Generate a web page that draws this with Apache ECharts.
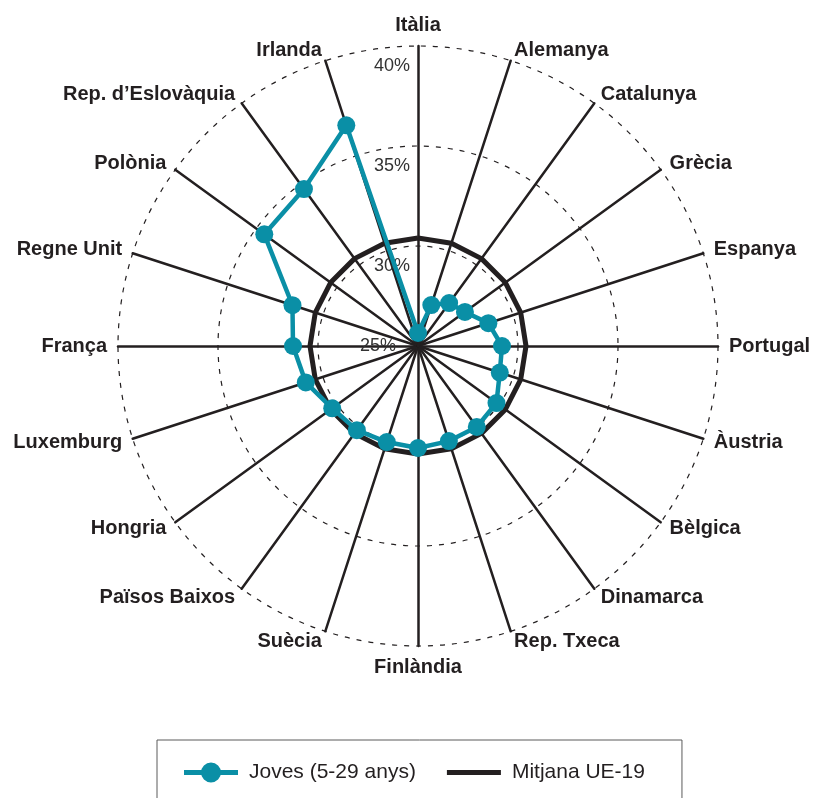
<!DOCTYPE html>
<html>
<head>
<meta charset="utf-8">
<script src="https://cdn.jsdelivr.net/npm/echarts@6/dist/echarts.min.js"></script>
<style>
  html, body { margin: 0; padding: 0; background: #ffffff; }
  #main { width: 816px; height: 798px; }
</style>
</head>
<body>
<div id="main"></div>
<script>
// indicators, listed counter-clockwise from the top (radar default direction)
const countries = ['Itàlia', 'Irlanda', 'Rep. d’Eslovàquia', 'Polònia', 'Regne Unit', 'França',
  'Luxemburg', 'Hongria', 'Països Baixos', 'Suècia', 'Finlàndia', 'Rep. Txeca', 'Dinamarca',
  'Bèlgica', 'Àustria', 'Portugal', 'Espanya', 'Grècia', 'Catalunya', 'Alemanya']
const joves = [25.65, 36.6, 34.7, 34.5, 31.6, 31.25, 30.9, 30.3, 30.2, 30.05, 30.1, 30.0, 30.0,
  29.85, 29.3, 29.2, 28.7, 27.9, 27.65, 27.15]
const mitjana = [30.4, 30.4, 30.4, 30.4, 30.4, 30.4, 30.4, 30.4, 30.4, 30.4, 30.4, 30.4, 30.4,
  30.4, 30.4, 30.4, 30.4, 30.4, 30.4, 30.4]
const seriesNames = ['Joves (5-29 anys)', 'Mitjana UE-19']
const axisMin = 25
const axisMax = 40

const teal = '#0a8fa6'
const ink = '#231f20'
const font = 'Liberation Sans, Arial, sans-serif'

let myChart = echarts.init(document.getElementById('main'))

let indicators = countries.map(function (name, i) {
  let ind = { name: name, min: axisMin, max: axisMax }
  if (i === 0) {
    // only the top axis carries the % labels
    ind.axisLabel = {
      show: true,
      margin: 8,
      color: '#333',
      fontSize: 18,
      fontFamily: font,
      formatter: function (v) {
        return v === axisMin ? '{c|' + v + '%}' : '{d|' + v + '%}'
      },
      rich: {
        c: { fontSize: 18, fontFamily: font, color: '#333', padding: [0, 14, 0, 0] },
        d: { fontSize: 18, fontFamily: font, color: '#333', padding: [40, 0, 0, 0] }
      }
    }
  }
  return ind
})

let option = {
  backgroundColor: '#ffffff',
  animation: false,
  legend: {
    left: 157,
    top: 740,
    orient: 'horizontal',
    padding: [22, 37, 40, 27],
    borderColor: '#5a5a5a',
    borderWidth: 1,
    itemWidth: 54,
    itemHeight: 20,
    itemGap: 31,
    itemStyle: { borderWidth: 0 },
    textStyle: { fontSize: 21, color: ink, fontFamily: font, padding: [0, 0, 0, 6] },
    data: [
      {
        name: seriesNames[0],
        icon: 'path://M0,0L0,0M54,20L54,20M0,7.5H54V12.5H0ZM17,10A10,10,0,1,1,37,10A10,10,0,1,1,17,10Z'
      },
      {
        name: seriesNames[1],
        icon: 'path://M0,0L0,0M54,20L54,20M0,7.5H54V12.5H0Z'
      }
    ]
  },
  radar: {
    center: [418, 346],
    radius: 300,
    splitNumber: 3,
    shape: 'circle',
    nameGap: 11,
    axisName: {
      color: ink,
      fontSize: 20,
      fontWeight: 'bold',
      fontFamily: font
    },
    axisLine: { lineStyle: { color: ink, width: 2.5 } },
    axisTick: { show: false },
    axisLabel: { show: false },
    splitArea: { show: false },
    splitLine: { lineStyle: { color: ink, width: 1.2, type: [5, 7] } },
    indicator: indicators
  },
  series: [
    {
      type: 'radar',
      data: [
        {
          name: seriesNames[1],
          value: mitjana,
          symbol: 'none',
          itemStyle: { color: ink },
          lineStyle: { color: ink, width: 5 }
        },
        {
          name: seriesNames[0],
          value: joves,
          symbol: 'circle',
          symbolSize: 18,
          itemStyle: { color: teal, borderWidth: 0 },
          lineStyle: { color: teal, width: 4.5 }
        }
      ]
    }
  ]
}
myChart.setOption(option)
</script>
</body>
</html>
